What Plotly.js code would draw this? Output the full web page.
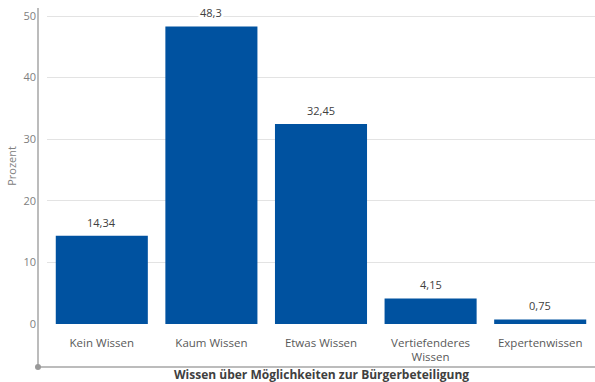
<!DOCTYPE html>
<html>
<head>
<meta charset="utf-8">
<script src="https://cdn.plot.ly/plotly-3.0.1.min.js"></script>
<style>html,body{margin:0;padding:0;background:#fff;}#chart{width:595px;height:382px;}</style>
</head>
<body>
<div id="chart"></div>
<script>
const categories = ["Kein Wissen", "Kaum Wissen", "Etwas Wissen", "Vertiefenderes<br>Wissen", "Expertenwissen"];
const values = [14.34, 48.3, 32.45, 4.15, 0.75];
const yTicks = [0, 10, 20, 30, 40, 50];
const xTitle = "Wissen über Möglichkeiten zur Bürgerbeteiligung";
const yTitle = "Prozent";

const W = 595, H = 382;
const L = 47, T = 8, PB = 324; // plot area bottom pixel
const plotH = PB - T, plotW = W - L;
const axisX = 38, axisY = 367;
const px = x => (x - L) / plotW;
const py = y => (PB - y) / plotH;

const FONT = "Open Sans, sans-serif";

const labelAnns = categories.map((c, i) => ({
  x: c, y: values[i], xref: 'x', yref: 'y',
  text: String(values[i]).replace('.', ','),
  showarrow: false, yanchor: 'bottom', yshift: 4,
  bgcolor: '#ffffff', borderpad: 1,
  font: {family: FONT, size: 11, color: '#404040'}
}));

const layout = {
  width: W, height: H,
  margin: {l: L, r: 0, t: T, b: H - PB, pad: 0},
  paper_bgcolor: '#ffffff', plot_bgcolor: '#ffffff',
  showlegend: false,
  bargap: 0.16,
  font: {family: FONT},
  xaxis: {
    type: 'category', range: [-0.5, 4.5],
    showline: false, showgrid: false, zeroline: false, ticks: '',
    tickfont: {family: FONT, size: 11.5, color: '#595959'},
    ticklabelstandoff: 10,
    automargin: false,
    fixedrange: true
  },
  yaxis: {
    range: [0, 51.3],
    tickvals: yTicks, ticktext: yTicks.map(String),
    showline: false, zeroline: false, ticks: '',
    showgrid: true, gridcolor: '#e3e3e3', gridwidth: 1,
    tickfont: {family: FONT, size: 11, color: '#808080'},
    ticklabelstandoff: 10,
    title: {text: yTitle, font: {family: FONT, size: 11, color: '#808080'}, standoff: 4},
    automargin: false,
    fixedrange: true
  },
  shapes: [
    {type: 'line', xref: 'paper', yref: 'paper', x0: px(axisX), x1: px(axisX), y0: 1, y1: py(axisY),
     line: {color: '#a6a6a6', width: 1.5}},
    {type: 'line', xref: 'paper', yref: 'paper', x0: px(axisX), x1: px(W), y0: py(axisY), y1: py(axisY),
     line: {color: '#a6a6a6', width: 1.5}},
    {type: 'circle', xref: 'paper', yref: 'paper', xsizemode: 'pixel', ysizemode: 'pixel',
     xanchor: px(axisX), yanchor: py(axisY), x0: -3, x1: 3, y0: -3, y1: 3,
     fillcolor: '#999999', line: {width: 0}}
  ],
  annotations: labelAnns.concat([
    {x: 0.5, y: py(374), xref: 'paper', yref: 'paper', text: '<b>' + xTitle + '</b>',
     showarrow: false, xanchor: 'center', yanchor: 'middle',
     font: {family: FONT, size: 12, color: '#404040'}}
  ])
};

const data = [{
  type: 'bar', x: categories, y: values,
  marker: {color: '#0052a0', line: {width: 0}},
  hoverinfo: 'none', cliponaxis: false
}];

Plotly.newPlot('chart', data, layout, {staticPlot: true, displayModeBar: false});
</script>
</body>
</html>
